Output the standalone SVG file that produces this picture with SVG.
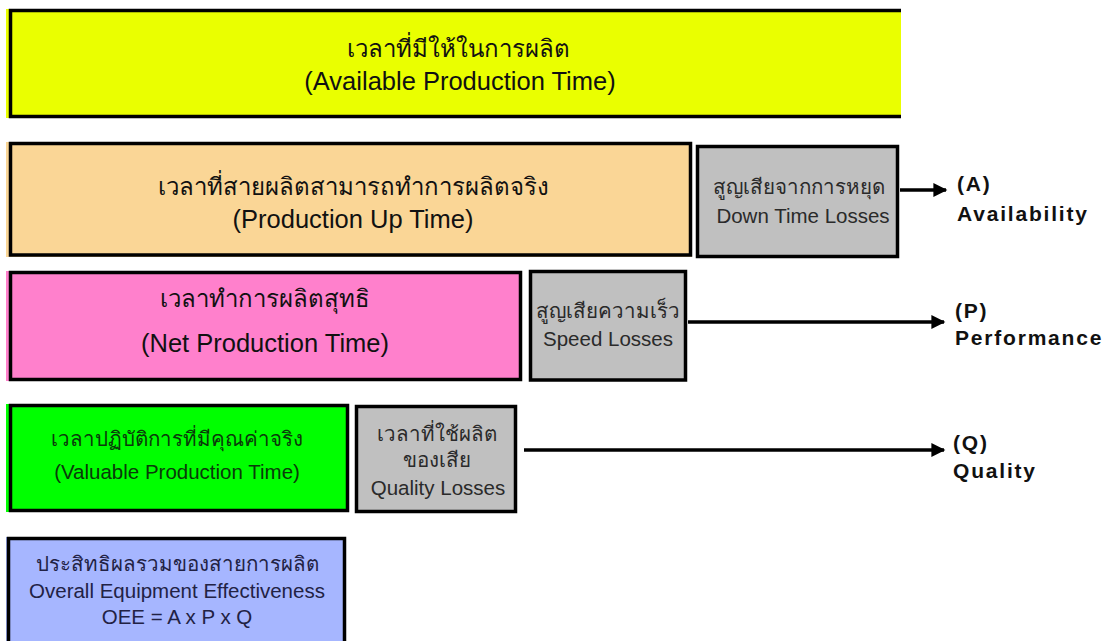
<svg xmlns="http://www.w3.org/2000/svg" width="1110" height="641" viewBox="0 0 1110 641">
<defs>
<style>
.bd{fill:none;stroke:#000;stroke-width:3.5}
.t{font-family:"Liberation Sans","Noto Sans","DejaVu Sans",sans-serif;text-anchor:middle;fill:#111}
.big{font-size:24px}
.bige{font-size:25.5px}
.sm{font-size:20.5px;fill:#2a2a2a}
.lbl{font-family:"Liberation Sans","DejaVu Sans",sans-serif;font-weight:bold;font-size:21px;fill:#111;letter-spacing:1.8px}
.conn{stroke:#000;stroke-width:3.5;fill:none}
</style>
<marker id="ah" viewBox="0 0 10 10" refX="9" refY="5" markerWidth="4.5" markerHeight="4" orient="auto" markerUnits="strokeWidth">
<path d="M0,0 L10,5 L0,10 Z" fill="#000"/>
</marker>
</defs>
<rect width="1110" height="641" fill="#fff"/>

<g id="available">
<rect x="6" y="9" width="895" height="109" fill="#eaff00"/>
<path class="bd" d="M901,10.5 H10.5 V116.5 H901"/>
<text class="t big" x="458" y="57">เวลาที่มีให้ในการผลิต</text>
<text class="t bige" x="460" y="90">(Available Production Time)</text>
</g>

<g id="uptime">
<rect x="6" y="142" width="686" height="115" fill="#fad696"/>
<rect class="bd" x="10.5" y="143.5" width="680" height="111.5"/>
<text class="t big" x="353" y="195">เวลาที่สายผลิตสามารถทำการผลิตจริง</text>
<text class="t bige" x="353" y="228">(Production Up Time)</text>
</g>

<g id="downtime">
<rect x="697.5" y="146.5" width="200" height="110" fill="#c0c0c0" stroke="#000" stroke-width="3.5"/>
<text class="t sm" x="799" y="194">สูญเสียจากการหยุด</text>
<text class="t sm" x="803" y="223">Down Time Losses</text>
</g>

<g id="net">
<rect x="6" y="271" width="516" height="110" fill="#ff80cc"/>
<rect class="bd" x="10.5" y="272.5" width="510" height="107"/>
<text class="t big" x="265" y="307">เวลาทำการผลิตสุทธิ</text>
<text class="t bige" x="265" y="352">(Net Production Time)</text>
</g>

<g id="speed">
<rect x="530.5" y="271.5" width="155" height="108.5" fill="#c0c0c0" stroke="#000" stroke-width="3.5"/>
<text class="t sm" x="608" y="318">สูญเสียความเร็ว</text>
<text class="t sm" x="608" y="346">Speed Losses</text>
</g>

<g id="valuable">
<rect x="6" y="404" width="343" height="108" fill="#00ff00"/>
<rect class="bd" x="10.5" y="405.5" width="337" height="105"/>
<text class="t sm" x="177" y="446" style="fill:#0a3a0a">เวลาปฏิบัติการที่มีคุณค่าจริง</text>
<text class="t sm" x="177" y="479" style="fill:#0a3a0a">(Valuable Production Time)</text>
</g>

<g id="quality">
<rect x="356.5" y="406.5" width="159" height="105" fill="#c0c0c0" stroke="#000" stroke-width="3.5"/>
<text class="t sm" x="437" y="441">เวลาที่ใช้ผลิต</text>
<text class="t sm" x="437" y="467">ของเสีย</text>
<text class="t sm" x="438" y="495">Quality Losses</text>
</g>

<g id="oee">
<rect x="6" y="537" width="340" height="110" fill="#a6b6ff"/>
<rect class="bd" x="8.5" y="538.5" width="336" height="110"/>
<text class="t sm" x="177" y="571" style="fill:#222244">ประสิทธิผลรวมของสายการผลิต</text>
<text class="t sm" x="177" y="598" style="fill:#222244">Overall Equipment Effectiveness</text>
<text class="t sm" x="177" y="624" style="fill:#222244">OEE = A x P x Q</text>
</g>

<g id="connectors">
<line class="conn" x1="900" y1="190" x2="946" y2="190" marker-end="url(#ah)"/>
<line class="conn" x1="688" y1="322" x2="944" y2="322" marker-end="url(#ah)"/>
<line class="conn" x1="524" y1="450" x2="944" y2="450" marker-end="url(#ah)"/>
</g>

<g id="labels">
<text class="lbl" x="957" y="191">(A)</text>
<text class="lbl" x="957" y="221">Availability</text>
<text class="lbl" x="955" y="318">(P)</text>
<text class="lbl" x="955" y="345">Performance</text>
<text class="lbl" x="953" y="450">(Q)</text>
<text class="lbl" x="953" y="478">Quality</text>
</g>
</svg>
